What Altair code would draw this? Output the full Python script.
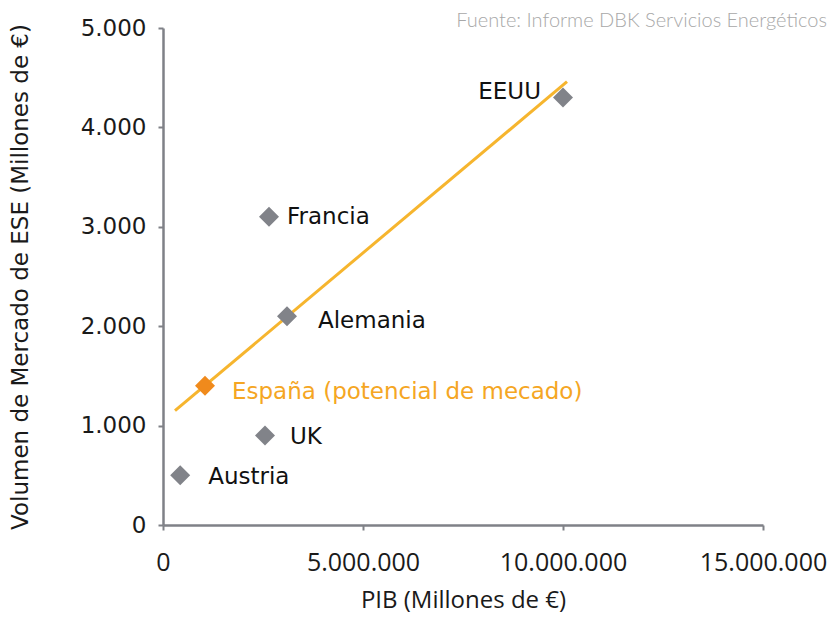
import altair as alt
import pandas as pd

# Data
countries = ["EEUU", "Francia", "Alemania", "España (potencial de mecado)", "UK", "Austria"]
pib = [10000000, 2650000, 3100000, 1050000, 2550000, 430000]
volumen = [4300, 3100, 2100, 1400, 900, 500]
group = ["otros", "otros", "otros", "España", "otros", "otros"]

trend_x = [300000, 10100000]
trend_y = [1150, 4460]

x_ticks = [0, 5000000, 10000000, 15000000]
y_ticks = [0, 1000, 2000, 3000, 4000, 5000]

source_text = ["Fuente: Informe DBK Servicios Energéticos"]

df = pd.DataFrame({"pais": countries, "pib": pib, "vol": volumen, "grupo": group})
trend = pd.DataFrame({"pib": trend_x, "vol": trend_y})
src = pd.DataFrame({"t": source_text})

x_scale = alt.Scale(domain=[0, 15000000], nice=False)
y_scale = alt.Scale(domain=[0, 5000], nice=False)

x_enc = alt.X(
    "pib:Q", scale=x_scale,
    axis=alt.Axis(
        values=x_ticks, title="PIB (Millones de €)", grid=False,
        labelExpr="replace(format(datum.value, ',d'), /,/g, '.')",
        labelFont="Open Sans", labelFontSize=25, labelColor="#1a1a1a",
        labelPadding=20, labelFlush=False,
        titleFont="Open Sans", titleFontSize=24, titleFontWeight="normal",
        titleColor="#1a1a1a", titlePadding=13,
        domainColor="#7f8187", domainWidth=2.5, tickColor="#7f8187",
        tickWidth=2, tickSize=5,
    ),
)
y_enc = alt.Y(
    "vol:Q", scale=y_scale,
    axis=alt.Axis(
        values=y_ticks, title="Volumen de Mercado de ESE (Millones de €)", grid=False,
        labelExpr="replace(format(datum.value, ',d'), /,/g, '.')",
        labelFont="DejaVu Sans", labelFontSize=23, labelColor="#1a1a1a",
        labelPadding=12,
        titleFont="DejaVu Sans", titleFontSize=23, titleFontWeight="normal",
        titleColor="#1a1a1a", titlePadding=48,
        domainColor="#7f8187", domainWidth=2.5, tickColor="#7f8187",
        tickWidth=2, tickSize=5,
    ),
)

line = alt.Chart(trend).mark_line(color="#F6B52E", strokeWidth=3).encode(x=x_enc, y=y_enc)

points = alt.Chart(df).mark_point(shape="diamond", filled=True, size=400, opacity=1).encode(
    x=x_enc, y=y_enc,
    color=alt.Color("grupo:N", scale=alt.Scale(domain=["otros", "España"], range=["#818389", "#F08A1C"]), legend=None),
)

offsets = {
    "EEUU": (-22, -6, "right"),
    "Francia": (18, 0, "left"),
    "Alemania": (31, 5, "left"),
    "España (potencial de mecado)": (27, 6, "left"),
    "UK": (25, 1, "left"),
    "Austria": (28, 2, "left"),
}

labels = []
for name, (dx, dy, al) in offsets.items():
    col = "#F5A623" if name.startswith("España") else "#111111"
    labels.append(
        alt.Chart(df).transform_filter(alt.datum.pais == name)
        .mark_text(align=al, baseline="middle", dx=dx, dy=dy, font="DejaVu Sans", fontSize=23, color=col)
        .encode(x=x_enc, y=y_enc, text="pais:N")
    )

source = alt.Chart(src).mark_text(
    align="right", baseline="alphabetic", font="Lato", fontWeight=300, fontSize=20, color="#a8a8a8"
).encode(x=alt.value(664), y=alt.value(-1), text="t:N")

chart = alt.layer(line, points, *labels, source).properties(
    width=600, height=497,
    autosize=alt.AutoSizeParams(type="none"),
    padding={"left": 155, "top": 20, "right": 66, "bottom": 90},
).configure_view(stroke=None)

chart.save("out.html", embed_options={"renderer": "svg", "actions": False})
